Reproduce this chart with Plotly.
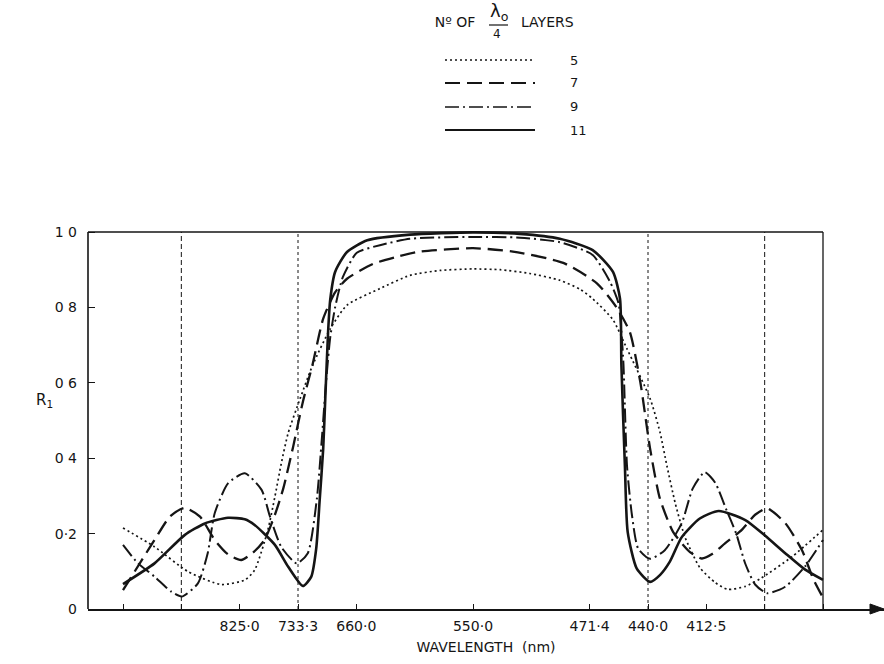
import plotly.graph_objects as go

# ---------------- data ----------------
# x = relative wavenumber g = lambda0 / lambda  (lambda0 = 550 nm)
layers = ["5", "7", "9", "11"]

g_5 = [0.500, 0.545, 0.593, 0.640, 0.674, 0.688, 0.707, 0.717, 0.726, 0.736, 0.753, 0.771, 0.796,
       0.820, 0.867, 0.910, 0.953, 1.000, 1.039, 1.081, 1.124, 1.153, 1.171, 1.200, 1.220, 1.253,
       1.267, 1.277, 1.289, 1.303, 1.324, 1.346, 1.364, 1.389, 1.410, 1.456, 1.500]
r_5 = [0.215, 0.165, 0.099, 0.065, 0.077, 0.103, 0.210, 0.298, 0.385, 0.467, 0.558, 0.647, 0.743,
       0.806, 0.850, 0.885, 0.898, 0.902, 0.900, 0.890, 0.872, 0.848, 0.823, 0.767, 0.690, 0.558,
       0.470, 0.380, 0.280, 0.190, 0.110, 0.070, 0.052, 0.060, 0.080, 0.139, 0.210]

g_7 = [0.500, 0.545, 0.567, 0.588, 0.610, 0.631, 0.650, 0.669, 0.686, 0.702, 0.717, 0.729, 0.743,
       0.757, 0.771, 0.786, 0.803, 0.820, 0.858, 0.891, 0.924, 1.000, 1.057, 1.129, 1.177, 1.205,
       1.224, 1.239, 1.253, 1.267, 1.286, 1.310, 1.327, 1.341, 1.360, 1.384, 1.403, 1.420, 1.446,
       1.470, 1.486, 1.500]
r_7 = [0.050, 0.183, 0.245, 0.268, 0.245, 0.183, 0.145, 0.130, 0.150, 0.183, 0.250, 0.320, 0.430,
       0.550, 0.650, 0.770, 0.840, 0.876, 0.916, 0.934, 0.948, 0.957, 0.948, 0.918, 0.864, 0.800,
       0.735, 0.602, 0.425, 0.293, 0.204, 0.151, 0.134, 0.145, 0.174, 0.210, 0.250, 0.267, 0.228,
       0.156, 0.080, 0.030]

g_9 = [0.500, 0.521, 0.545, 0.569, 0.584, 0.607, 0.621, 0.631, 0.650, 0.674, 0.698, 0.710, 0.726,
       0.748, 0.764, 0.777, 0.784, 0.790, 0.796, 0.803, 0.814, 0.834, 0.867, 0.910, 1.000, 1.067,
       1.124, 1.171, 1.196, 1.208, 1.212, 1.215, 1.220, 1.227, 1.236, 1.253, 1.274, 1.298, 1.314,
       1.331, 1.346, 1.362, 1.376, 1.389, 1.403, 1.420, 1.446, 1.474, 1.500]
r_9 = [0.170, 0.122, 0.086, 0.046, 0.033, 0.068, 0.148, 0.254, 0.333, 0.360, 0.316, 0.245, 0.165,
       0.121, 0.148, 0.293, 0.450, 0.600, 0.720, 0.800, 0.880, 0.945, 0.965, 0.982, 0.987, 0.985,
       0.973, 0.939, 0.867, 0.810, 0.735, 0.647, 0.380, 0.250, 0.160, 0.133, 0.156, 0.227, 0.320,
       0.363, 0.335, 0.263, 0.200, 0.120, 0.065, 0.042, 0.059, 0.112, 0.183]

g_11 = [0.500, 0.545, 0.588, 0.617, 0.650, 0.674, 0.688, 0.717, 0.736, 0.757, 0.769, 0.776, 0.781,
        0.786, 0.789, 0.793, 0.796, 0.803, 0.820, 0.849, 0.910, 1.000, 1.067, 1.124, 1.171, 1.200,
        1.210, 1.212, 1.217, 1.221, 1.234, 1.253, 1.267, 1.281, 1.298, 1.324, 1.351, 1.389, 1.417,
        1.446, 1.474, 1.500]
r_11 = [0.066, 0.121, 0.196, 0.227, 0.242, 0.238, 0.223, 0.170, 0.112, 0.061, 0.086, 0.160, 0.290,
        0.425, 0.560, 0.735, 0.820, 0.894, 0.947, 0.978, 0.993, 0.999, 0.995, 0.982, 0.952, 0.894,
        0.823, 0.647, 0.380, 0.204, 0.107, 0.072, 0.090, 0.125, 0.190, 0.240, 0.260, 0.236, 0.195,
        0.148, 0.105, 0.077]

# x ticks: labelled wavelengths (nm) and unlabelled tick wavelengths
tick_wl = [825.0, 733.333, 660.0, 550.0, 471.429, 440.0, 412.5]
tick_text = ["825·0", "733·3", "660·0", "550·0", "471·4", "440·0", "412·5"]
minor_wl = [1100.0, 942.857, 388.235, 366.667]
guide_wl = [942.857, 733.333, 440.0, 388.235]
lambda0 = 550.0

y_ticks = [0, 0.2, 0.4, 0.6, 0.8, 1.0]
y_text = ["0", "0·2", "0 4", "0 6", "0 8", "1 0"]

# ---------------- styles ----------------
INK = "#151515"
FONT = "DejaVu Sans, sans-serif"
styles = {
    "5": dict(dash="2px,3px", width=1.7),
    "7": dict(dash="15px,7px", width=2.3),
    "9": dict(dash="14px,4px,2px,4px", width=2.0),
    "11": dict(dash="solid", width=2.6),
}

W, H = 884, 664
ML, MR, MT, MB = 88, 0, 225, 55
PW, PH = W - ML - MR, H - MT - MB


def px_x(p):
    return (p - ML) / PW


def px_y(p):
    return (H - MB - p) / PH


fig = go.Figure()
series = {"5": (g_5, r_5), "7": (g_7, r_7), "9": (g_9, r_9), "11": (g_11, r_11)}
for name in layers:
    gx, ry = series[name]
    st = styles[name]
    fig.add_trace(go.Scatter(
        x=gx, y=ry, mode="lines", name=name, showlegend=False,
        line=dict(color=INK, width=st["width"], dash=st["dash"], shape="spline", smoothing=0.6),
    ))

tick_g = [lambda0 / w for w in tick_wl]
minor_g = [lambda0 / w for w in minor_wl]
guide_g = [lambda0 / w for w in guide_wl]
g_end = lambda0 / minor_wl[-1]

shapes = []
# vertical guide lines
for i, gv in enumerate(guide_g):
    shapes.append(dict(type="line", xref="x", yref="y", x0=gv, x1=gv, y0=0, y1=1.0,
                       line=dict(color=INK, width=1, dash="5px,3px" if i in (0, 3) else "3px,3px")))
# frame: top, right border, left axis
shapes.append(dict(type="line", xref="paper", yref="y", x0=0, x1=px_x(823), y0=1.0, y1=1.0,
                   line=dict(color=INK, width=1.5)))
shapes.append(dict(type="line", xref="x", yref="y", x0=g_end, x1=g_end, y0=0, y1=1.0,
                   line=dict(color=INK, width=1.3)))
shapes.append(dict(type="line", xref="paper", yref="y", x0=0, x1=0, y0=0, y1=1.0,
                   line=dict(color=INK, width=1.6)))
# arrow head at the end of the wavelength axis
shapes.append(dict(type="path", xref="paper", yref="paper",
                   path=f"M {px_x(884)} {px_y(609)} L {px_x(870)} {px_y(604)} L {px_x(870)} {px_y(614)} Z",
                   fillcolor=INK, line=dict(color=INK, width=1)))

# legend keys (drawn as a key block above the plot)
key_y = [60, 83, 107, 130]
for name, ky in zip(layers, key_y):
    st = styles[name]
    shapes.append(dict(type="line", xref="paper", yref="paper", x0=px_x(445), x1=px_x(535),
                       y0=px_y(ky), y1=px_y(ky),
                       line=dict(color=INK, width=st["width"] * 0.85, dash=st["dash"])))
# fraction bar in the legend title
shapes.append(dict(type="line", xref="paper", yref="paper", x0=px_x(489), x1=px_x(508),
                   y0=px_y(25), y1=px_y(25), line=dict(color=INK, width=1.2)))

annotations = []
for name, ky in zip(layers, key_y):
    annotations.append(dict(xref="paper", yref="paper", x=px_x(568), y=px_y(ky), text=name,
                            showarrow=False, xanchor="left", yanchor="middle",
                            font=dict(size=13, color=INK, family=FONT)))
annotations += [
    dict(xref="paper", yref="paper", x=px_x(499), y=px_y(12), text="λ<sub>o</sub>", showarrow=False,
         xanchor="center", yanchor="middle", font=dict(size=18, color=INK, family=FONT)),
    dict(xref="paper", yref="paper", x=px_x(497), y=px_y(34), text="4", showarrow=False,
         xanchor="center", yanchor="middle", font=dict(size=12, color=INK, family=FONT)),
    dict(xref="paper", yref="paper", x=px_x(547), y=px_y(22), text="LAYERS", showarrow=False,
         xanchor="center", yanchor="middle", font=dict(size=14, color=INK, family=FONT)),
    dict(xref="paper", yref="paper", x=px_x(44), y=px_y(400), text="R<sub>1</sub>", showarrow=False,
         xanchor="center", yanchor="middle", font=dict(size=15, color=INK, family=FONT)),
]

fig.update_layout(
    width=W, height=H,
    margin=dict(l=ML, r=MR, t=MT, b=MB, pad=0),
    paper_bgcolor="white", plot_bgcolor="white",
    shapes=shapes, annotations=annotations,
    font=dict(family=FONT, color=INK),
    title=dict(text="Nº OF", x=455 / W, y=1 - 22 / H, xref="container", yref="container",
               xanchor="center", yanchor="middle", font=dict(size=14, color=INK, family=FONT)),
)
fig.update_xaxes(
    range=[0.45, 0.45 + PW / 700.0], showgrid=False, zeroline=False,
    showline=True, linecolor=INK, linewidth=1.6,
    tickmode="array", tickvals=tick_g, ticktext=tick_text,
    ticks="inside", ticklen=5, tickwidth=1.2, tickcolor=INK,
    tickfont=dict(size=14, color=INK, family=FONT), ticklabelstandoff=3,
    minor=dict(tickmode="array", tickvals=minor_g, ticks="inside", ticklen=5, tickwidth=1.2,
               tickcolor=INK, showgrid=False),
    title=dict(text="WAVELENGTH  (nm)", standoff=10, font=dict(size=14, color=INK, family=FONT)),
)
fig.update_yaxes(
    range=[0, PH / 377.0], showgrid=False, zeroline=False, showline=False,
    tickmode="array", tickvals=y_ticks, ticktext=y_text,
    ticks="inside", ticklen=7, tickwidth=1.2, tickcolor=INK,
    tickfont=dict(size=14, color=INK, family=FONT), ticklabelstandoff=10,
)

fig.write_html("out.html")
